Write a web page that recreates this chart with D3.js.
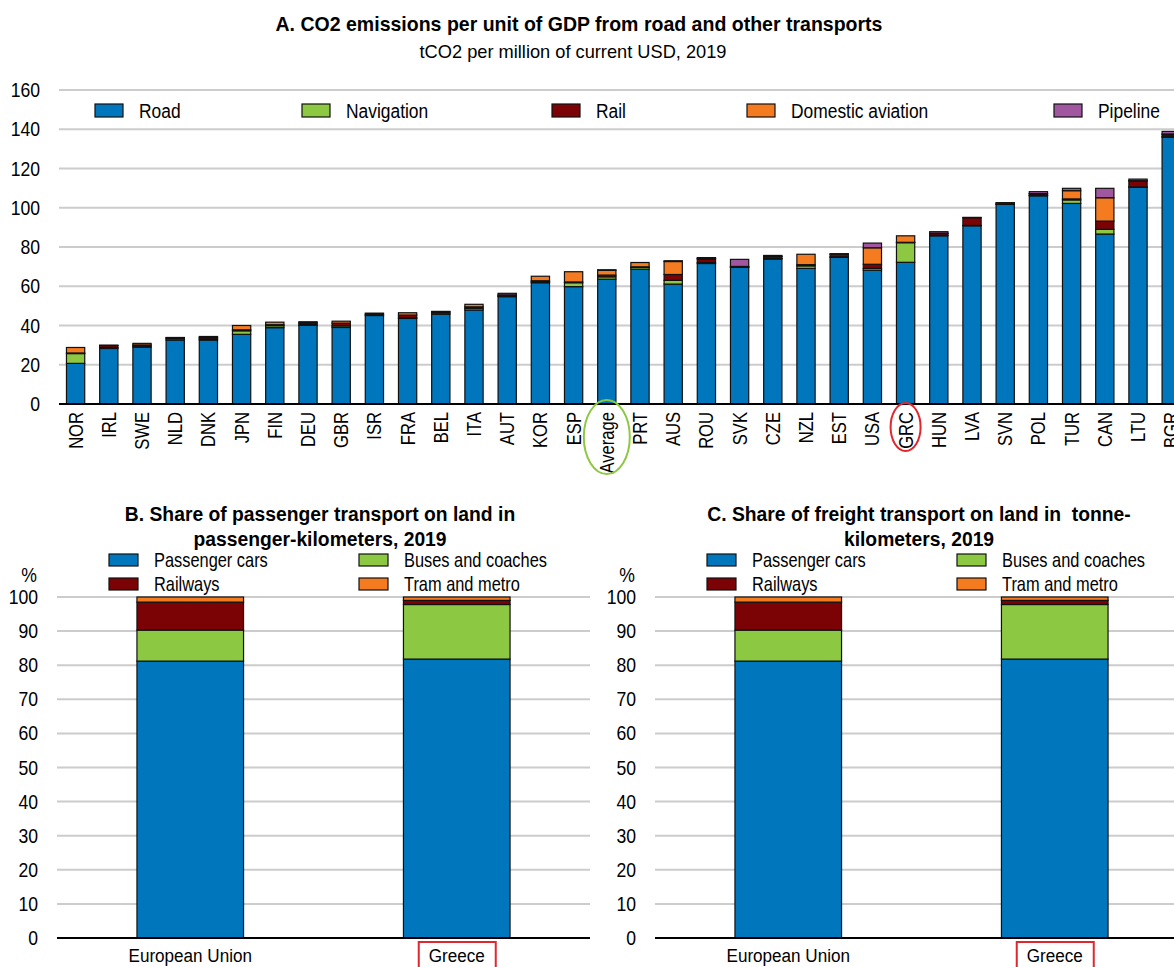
<!DOCTYPE html>
<html lang="en">
<head>
  <meta charset="utf-8" />
  <title>Transport CO2 and modal shares</title>
  <script src="https://d3js.org/d3.v7.min.js"></script>
  <style>
    body { margin: 0; background: #fff; }
    svg text { font-family: "Liberation Sans", Arial, sans-serif; fill: #000; white-space: pre; }
  </style>
</head>
<body>
  <script>
    // Panel A data: tCO2 per million USD, 2019
    var countries = ["NOR", "IRL", "SWE", "NLD", "DNK", "JPN", "FIN", "DEU", "GBR", "ISR", "FRA", "BEL", "ITA", "AUT", "KOR", "ESP", "Average",
      "PRT", "AUS", "ROU", "SVK", "CZE", "NZL", "EST", "USA", "GRC", "HUN", "LVA", "SVN", "POL", "TUR", "CAN", "LTU", "BGR"];
    var road = [20.7, 28.3, 28.9, 32.6, 32.6, 35.5, 38.9, 40.1, 39.0, 45.1, 43.6, 45.7, 47.9, 54.7, 61.8, 59.8, 63.6,
      68.7, 61.1, 71.6, 69.6, 73.9, 69.1, 74.7, 68.2, 72.2, 85.7, 90.8, 101.7, 106.1, 102.2, 86.6, 110.4, 135.9];
    var navigation = [5.0, 0.5, 0.6, 0.7, 0.6, 1.8, 1.0, 0.6, 0.8, 0.0, 0.4, 0.7, 0.9, 0.2, 0.4, 2.0, 1.2,
      0.9, 1.9, 0.5, 0.1, 0.2, 1.3, 0.3, 0.9, 10.0, 0.3, 0.2, 0.1, 0.1, 1.8, 2.4, 0.2, 0.3];
    var rail = [0.3, 1.0, 0.6, 0.5, 0.7, 0.5, 0.5, 0.8, 1.4, 0.6, 1.3, 0.6, 0.7, 0.5, 0.6, 0.4, 0.9,
      0.3, 3.0, 1.8, 0.4, 1.0, 0.6, 1.3, 2.1, 0.2, 0.9, 3.9, 0.5, 0.8, 0.5, 4.2, 3.0, 1.0];
    var aviation = [2.8, 0.2, 0.8, 0.1, 0.5, 2.2, 1.3, 0.4, 1.0, 0.6, 1.2, 0.2, 1.3, 0.2, 2.3, 5.2, 2.4,
      2.2, 6.6, 0.2, 0.0, 0.1, 5.3, 0.3, 8.4, 3.3, 0.1, 0.2, 0.3, 0.2, 4.2, 11.9, 0.2, 0.4];
    var pipeline = [0, 0, 0, 0, 0, 0, 0, 0, 0, 0, 0, 0, 0, 0.8, 0, 0, 0.3,
      0, 0.4, 0.5, 3.6, 0.5, 0, 0, 2.4, 0, 0.8, 0, 0, 1.0, 1.2, 4.8, 0.8, 1.3];
    var modesA = ["Road", "Navigation", "Rail", "Domestic aviation", "Pipeline"];

    // Panels B and C data: % shares, 2019
    var regions = ["European Union", "Greece"];
    var paxCars = [81.2, 81.8];
    var paxBuses = [9.1, 16.0];
    var paxRail = [8.2, 1.2];
    var paxTram = [1.5, 1.0];
    var frtCars = [81.2, 81.8];
    var frtBuses = [9.1, 16.0];
    var frtRail = [8.2, 1.2];
    var frtTram = [1.5, 1.0];
    var modesB = ["Passenger cars", "Buses and coaches", "Railways", "Tram and metro"];

    var colors = ["#0077bd", "#8cc841", "#7b0205", "#f47b20", "#a057a0"];

    var svg = d3.select("body").append("svg")
      .attr("width", 1174)
      .attr("height", 967);

    // condensed-looking text: squeeze glyphs horizontally around the anchor point
    function label(g, x, y, s, size, sx, anchor, bold, rot) {
      return g.append("text")
        .attr("transform", "translate(" + x + "," + y + ")" + (rot ? " rotate(-90)" : "") + " scale(" + sx + ",1)")
        .attr("text-anchor", anchor || "start")
        .style("font-size", size + "px")
        .style("font-weight", bold ? "bold" : "normal")
        .text(s);
    }

    // ---------- Panel A ----------
    var rowsA = countries.map(function (c, i) {
      return { key: c, "Road": road[i], "Navigation": navigation[i], "Rail": rail[i], "Domestic aviation": aviation[i], "Pipeline": pipeline[i] };
    });
    var stackA = d3.stack().keys(modesA)(rowsA);

    var xA = d3.scaleBand().domain(countries).range([59, 59 + 34 * 33.2]).paddingInner(0.45).paddingOuter(0.225);
    var yA = d3.scaleLinear().domain([0, 160]).range([404, 90]);

    label(svg, 579, 31, "A. CO2 emissions per unit of GDP from road and other transports", 21, 0.93, "middle", true);
    label(svg, 573, 58, "tCO2 per million of current USD, 2019", 19, 0.96, "middle");

    var gA = svg.append("g");
    gA.selectAll("line.grid").data(yA.ticks(8).filter(function (d) { return d > 0; }))
      .enter().append("line").attr("class", "grid")
      .attr("x1", 59).attr("x2", 1174)
      .attr("y1", function (d) { return yA(d); }).attr("y2", function (d) { return yA(d); })
      .attr("stroke", "#cccccc").attr("stroke-width", 2);
    yA.ticks(8).forEach(function (d) {
      label(gA, 40, yA(d) + 7, String(d), 20, 0.88, "end");
    });

    gA.selectAll("g.series").data(stackA).enter().append("g")
      .attr("fill", function (d, i) { return colors[i]; })
      .selectAll("rect").data(function (d) { return d; })
      .enter().append("rect")
      .attr("x", function (d) { return xA(d.data.key); })
      .attr("width", xA.bandwidth())
      .attr("y", function (d) { return yA(d[1]); })
      .attr("height", function (d) { return yA(d[0]) - yA(d[1]); })
      .attr("stroke", "#111").attr("stroke-width", 1.2);

    gA.append("line").attr("x1", 59).attr("x2", 1174).attr("y1", yA(0)).attr("y2", yA(0))
      .attr("stroke", "#000").attr("stroke-width", 2);

    countries.forEach(function (c) {
      label(gA, xA(c) + xA.bandwidth() / 2 + 7, 412, c, 20, 0.83, "end", false, true);
    });

    // highlight ellipses
    gA.append("ellipse")
      .attr("cx", xA("Average") + xA.bandwidth() / 2).attr("cy", 437).attr("rx", 23).attr("ry", 37)
      .attr("fill", "none").attr("stroke", "#8cc841").attr("stroke-width", 2);
    gA.append("ellipse")
      .attr("cx", xA("GRC") + xA.bandwidth() / 2).attr("cy", 427).attr("rx", 15).attr("ry", 24)
      .attr("fill", "none").attr("stroke", "#e0262f").attr("stroke-width", 2);

    // legend A
    var legXA = [95, 302, 552, 747, 1054];
    modesA.forEach(function (m, i) {
      gA.append("rect").attr("x", legXA[i]).attr("y", 104).attr("width", 28).attr("height", 13)
        .attr("fill", colors[i]).attr("stroke", "#111").attr("stroke-width", 1.2);
      label(gA, legXA[i] + 44, 118, m, 20, 0.87);
    });

    // ---------- Panels B and C ----------
    function sharePanel(left, mid, title1, title2, cars, buses, railw, tram) {
      var right = left + 533;
      var x = d3.scaleBand().domain(regions).range([left, right]).paddingInner(0.6).paddingOuter(0.3);
      var y = d3.scaleLinear().domain([0, 100]).range([938, 597]);
      var g = svg.append("g");

      var rows = regions.map(function (r, i) {
        return { key: r, "Passenger cars": cars[i], "Buses and coaches": buses[i], "Railways": railw[i], "Tram and metro": tram[i] };
      });
      var stack = d3.stack().keys(modesB)(rows);

      label(g, mid, 521, title1, 21, 0.92, "middle", true);
      label(g, mid, 546, title2, 21, 0.92, "middle", true);

      g.selectAll("line.grid").data(y.ticks(10).filter(function (d) { return d > 0; }))
        .enter().append("line").attr("class", "grid")
        .attr("x1", left).attr("x2", right)
        .attr("y1", function (d) { return y(d); }).attr("y2", function (d) { return y(d); })
        .attr("stroke", "#cccccc").attr("stroke-width", 2);
      y.ticks(10).forEach(function (d) {
        label(g, left - 19, y(d) + 7, String(d), 20, 0.88, "end");
      });
      label(g, left - 28, 582, "%", 20, 0.88, "middle");

      g.selectAll("g.series").data(stack).enter().append("g")
        .attr("fill", function (d, i) { return colors[i]; })
        .selectAll("rect").data(function (d) { return d; })
        .enter().append("rect")
        .attr("x", function (d) { return x(d.data.key); })
        .attr("width", x.bandwidth())
        .attr("y", function (d) { return y(d[1]); })
        .attr("height", function (d) { return y(d[0]) - y(d[1]); })
        .attr("stroke", "#111").attr("stroke-width", 1.2);

      g.append("line").attr("x1", left).attr("x2", right).attr("y1", y(0)).attr("y2", y(0))
        .attr("stroke", "#000").attr("stroke-width", 2);

      regions.forEach(function (r) {
        label(g, x(r) + x.bandwidth() / 2, 962, r, 19, 0.9, "middle");
      });

      var gx = x("Greece") + x.bandwidth() / 2;
      g.append("rect").attr("x", gx - 38).attr("y", 942).attr("width", 77).attr("height", 34)
        .attr("fill", "none").attr("stroke", "#e0262f").attr("stroke-width", 2);

      // legend
      var lx = [left + 52, left + 302];
      modesB.forEach(function (m, i) {
        var col = i % 2, row = Math.floor(i / 2);
        var ly = 554 + row * 24;
        g.append("rect").attr("x", lx[col]).attr("y", ly).attr("width", 29).attr("height", 12)
          .attr("fill", colors[i]).attr("stroke", "#111").attr("stroke-width", 1.2);
        label(g, lx[col] + 45, ly + 13, m, 20, 0.82);
      });
    }

    sharePanel(57, 320, "B. Share of passenger transport on land in", "passenger-kilometers, 2019",
      paxCars, paxBuses, paxRail, paxTram);
    sharePanel(655, 919, "C. Share of freight transport on land in  tonne-", "kilometers, 2019",
      frtCars, frtBuses, frtRail, frtTram);
  </script>
</body>
</html>
